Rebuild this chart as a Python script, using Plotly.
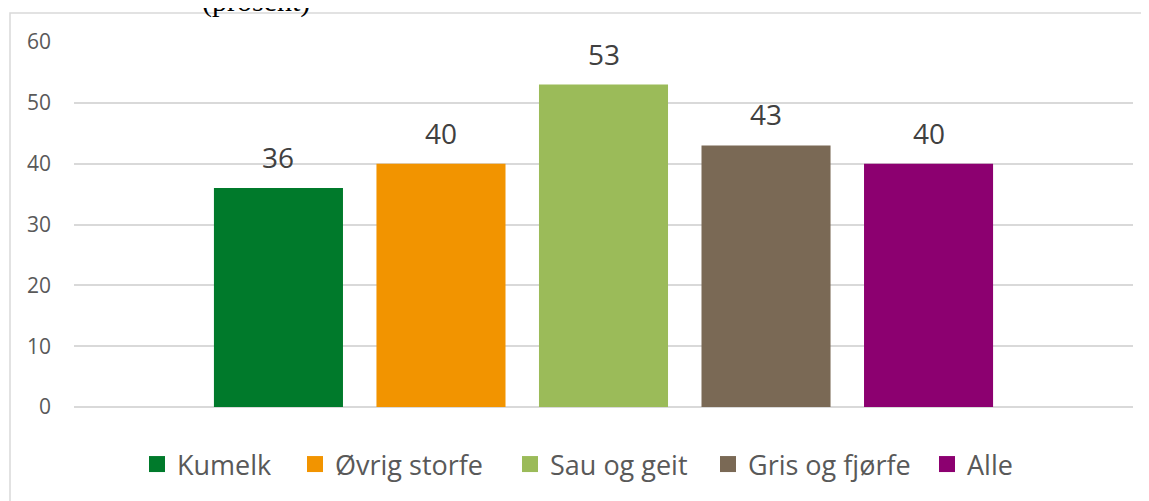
import plotly.graph_objects as go

categories = ["Kumelk", "Øvrig storfe", "Sau og geit", "Gris og fjørfe", "Alle"]
values = [36, 40, 53, 43, 40]
colors = ["#007A2B", "#F29400", "#9BBB59", "#7A6955", "#8C0070"]
y_ticks = [0, 10, 20, 30, 40, 50, 60]
title_text = "(prosent)"

# page body adds an 8px offset; work in screenshot pixels and convert
OFF = 8
W, H = 1149, 501
ML, MR, MT, MB = 74 - OFF, 1149 - (1133 - OFF), 42 - OFF, 501 - (407 - OFF)
PW, PH = W - ML - MR, H - MT - MB


def px_x(p):
    return (p - OFF - ML) / PW


def px_y(p):
    return 1 - (p - OFF - MT) / PH


# legend square left edges in screenshot pixels
legend_sq_x = [151, 309, 524, 722, 941]

fig = go.Figure()
for i, (c, v, col) in enumerate(zip(categories, values, colors)):
    fig.add_trace(go.Bar(x=[i], y=[v], name=c, marker=dict(color=col, line=dict(width=0)),
                         width=0.794, hoverinfo="skip", showlegend=False))
    lname = "legend" if i == 0 else f"legend{i + 1}"
    fig.add_trace(go.Scatter(x=[None], y=[None], mode="markers", name=c,
                             marker=dict(symbol="square", size=16, color=col),
                             showlegend=True, legend=lname))
    fig.add_annotation(x=i, y=v, text=str(v), showarrow=False, yshift=31, yanchor="middle",
                       font=dict(family="Open Sans", size=28, color="#404040"))

fig.add_shape(type="rect", xref="paper", yref="paper",
              x0=px_x(10), x1=px_x(1148), y0=px_y(530), y1=px_y(13),
              line=dict(color="#D9D9D9", width=1.5), fillcolor="rgba(0,0,0,0)", layer="below")

fig.add_annotation(xref="paper", yref="paper", x=px_x(255.5), y=px_y(20), text=title_text,
                   showarrow=False, xanchor="center", yanchor="bottom",
                   font=dict(family="Liberation Serif", size=30, color="#000000"))

legend_common = dict(orientation="h", yanchor="top", y=px_y(440), xanchor="left",
                     font=dict(family="Open Sans", size=27, color="#595959"),
                     itemsizing="trace", bgcolor="rgba(0,0,0,0)", borderwidth=0)
layout_legends = {}
for i, sx in enumerate(legend_sq_x):
    lname = "legend" if i == 0 else f"legend{i + 1}"
    layout_legends[lname] = dict(legend_common, x=px_x(sx - 14))

fig.update_layout(
    width=W, height=H,
    margin=dict(l=ML, r=MR, t=MT, b=MB, pad=0),
    paper_bgcolor="white", plot_bgcolor="white",
    barmode="overlay",
    showlegend=True,
    xaxis=dict(range=[-1.258, 5.258], showticklabels=False, showgrid=False, zeroline=False,
               showline=False, ticks="", fixedrange=True),
    yaxis=dict(range=[0, 60], tickvals=y_ticks, showgrid=True, gridcolor="#D9D9D9", gridwidth=1.5,
               zeroline=True, zerolinecolor="#D9D9D9", zerolinewidth=1.5, showline=False, ticks="",
               ticklabelstandoff=22,
               tickfont=dict(family="Open Sans", size=21, color="#595959")),
    **layout_legends,
)

fig.write_html("out.html")
